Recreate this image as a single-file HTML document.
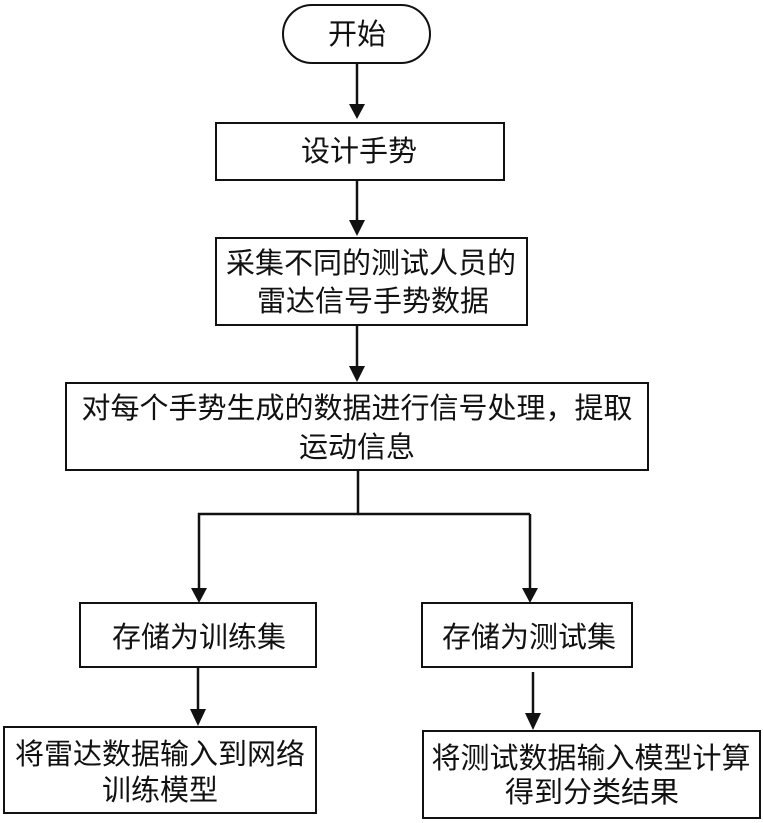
<!DOCTYPE html>
<html>
<head>
<meta charset="utf-8">
<style>
html,body{margin:0;padding:0;background:#fff;}
svg{display:block;}
text{font-family:"Liberation Sans","Noto Sans CJK SC",sans-serif;font-size:29px;fill:#111;}
</style>
</head>
<body>
<svg width="763" height="823" viewBox="0 0 763 823" xmlns="http://www.w3.org/2000/svg">
<g fill="#fff" stroke="#111" stroke-width="2">
<rect x="283" y="5" width="147" height="58" rx="29" ry="29"/>
<rect x="216" y="123" width="288" height="57"/>
<rect x="216" y="238" width="311" height="87"/>
<rect x="66" y="383" width="582" height="87"/>
<rect x="80" y="603" width="236" height="64"/>
<rect x="422" y="603" width="210" height="64"/>
<rect x="4" y="727" width="312" height="86"/>
<rect x="423" y="731" width="337" height="87"/>
</g>
<g stroke="#111" stroke-width="2.5" fill="none">
<line x1="357" y1="63" x2="357" y2="106"/>
<line x1="357" y1="180" x2="357" y2="222"/>
<line x1="357" y1="325" x2="357" y2="368"/>
<polyline points="358,470 358,514 199,514 199,590"/>
<line x1="358" y1="514" x2="530" y2="514"/>
<line x1="530" y1="514" x2="530" y2="590"/>
<line x1="198" y1="667" x2="198" y2="710"/>
<line x1="533" y1="672" x2="533" y2="714"/>
</g>
<g fill="#111">
<polygon points="349,104 365,104 357,119"/>
<polygon points="349,220 365,220 357,236"/>
<polygon points="349,366 365,366 357,382"/>
<polygon points="191,588 207,588 199,603"/>
<polygon points="522,588 538,588 530,603"/>
<polygon points="190,709 206,709 198,726"/>
<polygon points="525,713 541,713 533,730"/>
</g>
<g text-anchor="middle" dominant-baseline="central">
<text x="357" y="35">开始</text>
<text x="359" y="152">设计手势</text>
<text x="371" y="264">采集不同的测试人员的</text>
<text x="373" y="302">雷达信号手势数据</text>
<text x="357" y="409">对每个手势生成的数据进行信号处理，提取</text>
<text x="357" y="448">运动信息</text>
<text x="199" y="638">存储为训练集</text>
<text x="529" y="638">存储为测试集</text>
<text x="160" y="755">将雷达数据输入到网络</text>
<text x="160" y="791">训练模型</text>
<text x="591" y="759">将测试数据输入模型计算</text>
<text x="592" y="793">得到分类结果</text>
</g>
</svg>
</body>
</html>
